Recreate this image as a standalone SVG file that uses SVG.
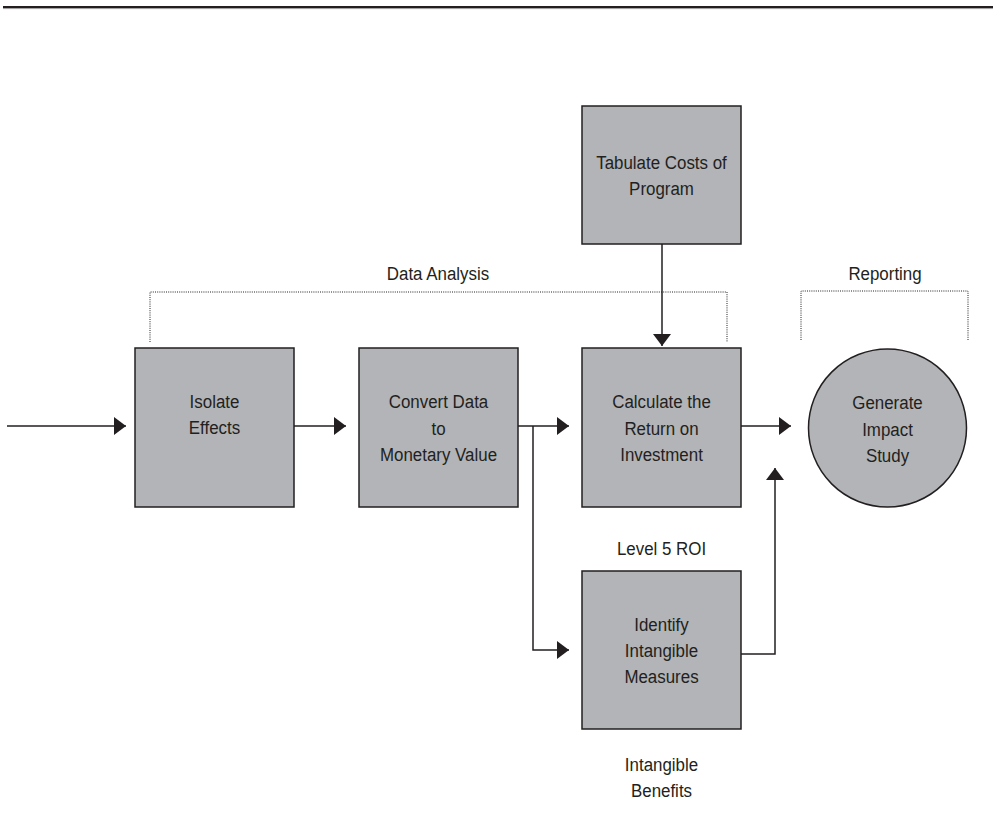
<svg xmlns="http://www.w3.org/2000/svg" width="993" height="813" viewBox="0 0 993 813">
<defs>
<style>
.box{fill:#b2b4b7;stroke:#231f20;stroke-width:1.5}
.t{font-family:"Liberation Sans",Arial,sans-serif;font-size:19px;fill:#231f20;text-anchor:middle}
.c{fill:none;stroke:#231f20;stroke-width:1.5}
.d{fill:none;stroke:#231f20;stroke-width:1;stroke-dasharray:1 1.2}
</style>
<marker id="ah" viewBox="0 0 12 18" refX="12" refY="9" markerWidth="12" markerHeight="18" markerUnits="userSpaceOnUse" orient="auto">
<path d="M0,0 L12,9 L0,18 Z" fill="#231f20"/>
</marker>
</defs>
<rect width="993" height="813" fill="#ffffff"/>
<line x1="3" y1="7" x2="993" y2="7" stroke="#231f20" stroke-width="2"/>
<line x1="3" y1="8.6" x2="993" y2="8.6" stroke="#9a9a9a" stroke-width="1"/>

<g id="brackets">
<path class="d" d="M150,342 V292 H727 V342"/>
<path class="d" d="M801,340 V291 H968 V340"/>
<text class="t" transform="translate(438,280) scale(0.89,1)">Data Analysis</text>
<text class="t" transform="translate(885,280) scale(0.89,1)">Reporting</text>
</g>

<g id="connectors">
<line class="c" x1="7" y1="426" x2="126" y2="426" marker-end="url(#ah)"/>
<line class="c" x1="294" y1="426" x2="346" y2="426" marker-end="url(#ah)"/>
<line class="c" x1="518" y1="426" x2="569" y2="426" marker-end="url(#ah)"/>
<path class="c" d="M533,426 V650 H569" marker-end="url(#ah)"/>
<line class="c" x1="741" y1="426" x2="791" y2="426" marker-end="url(#ah)"/>
<path class="c" d="M741,654 H775 V468" marker-end="url(#ah)"/>
<line class="c" x1="662" y1="244" x2="662" y2="346" marker-end="url(#ah)"/>
</g>

<g id="tabulate">
<rect class="box" x="582" y="106" width="159" height="138"/>
<text class="t" transform="translate(661.5,169) scale(0.89,1)">Tabulate Costs of</text>
<text class="t" transform="translate(661.5,195) scale(0.89,1)">Program</text>
</g>

<g id="isolate">
<rect class="box" x="135" y="348" width="159" height="159"/>
<text class="t" transform="translate(214.5,408) scale(0.89,1)">Isolate</text>
<text class="t" transform="translate(214.5,434) scale(0.89,1)">Effects</text>
</g>

<g id="convert">
<rect class="box" x="359" y="348" width="159" height="159"/>
<text class="t" transform="translate(438.5,408) scale(0.89,1)">Convert Data</text>
<text class="t" transform="translate(438.5,435) scale(0.89,1)">to</text>
<text class="t" transform="translate(438.5,461) scale(0.89,1)">Monetary Value</text>
</g>

<g id="calculate">
<rect class="box" x="582" y="348" width="159" height="159"/>
<text class="t" transform="translate(661.5,408) scale(0.89,1)">Calculate the</text>
<text class="t" transform="translate(661.5,435) scale(0.89,1)">Return on</text>
<text class="t" transform="translate(661.5,461) scale(0.89,1)">Investment</text>
</g>

<g id="generate">
<circle class="box" cx="887.5" cy="428" r="79"/>
<text class="t" transform="translate(887.5,409) scale(0.89,1)">Generate</text>
<text class="t" transform="translate(887.5,436) scale(0.89,1)">Impact</text>
<text class="t" transform="translate(887.5,462) scale(0.89,1)">Study</text>
</g>

<g id="level5">
<text class="t" transform="translate(661.5,555) scale(0.89,1)">Level 5 ROI</text>
</g>

<g id="identify">
<rect class="box" x="582" y="571" width="159" height="158"/>
<text class="t" transform="translate(661.5,631) scale(0.89,1)">Identify</text>
<text class="t" transform="translate(661.5,657) scale(0.89,1)">Intangible</text>
<text class="t" transform="translate(661.5,683) scale(0.89,1)">Measures</text>
</g>

<g id="benefits">
<text class="t" transform="translate(661.5,771) scale(0.89,1)">Intangible</text>
<text class="t" transform="translate(661.5,797) scale(0.89,1)">Benefits</text>
</g>
</svg>
